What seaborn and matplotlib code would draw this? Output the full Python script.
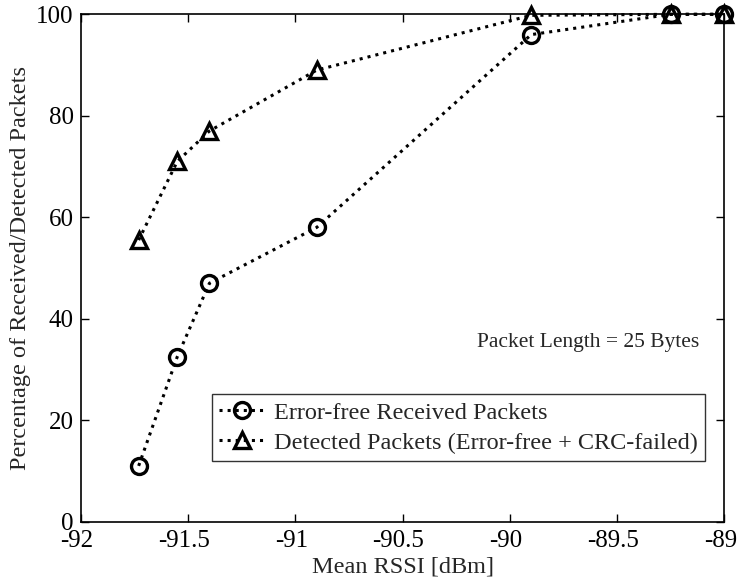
import matplotlib
matplotlib.use("Agg")
import matplotlib.pyplot as plt
import matplotlib.transforms as mtransforms
import seaborn as sns
import pandas as pd

rssi = [-91.73, -91.55, -91.40, -90.90, -89.90, -89.25, -89.00]
error_free = [11.0, 32.5, 47.0, 58.0, 96.0, 100.0, 100.0]
detected = [55.5, 71.0, 77.0, 89.0, 99.8, 100.0, 100.0]
labels = ["Error-free Received Packets",
          "Detected Packets (Error-free + CRC-failed)"]
x_ticks = [-92, -91.5, -91, -90.5, -90, -89.5, -89]
x_tick_labels = ["-92", "-91.5", "-91", "-90.5", "-90", "-89.5", "-89"]
y_ticks = [0, 20, 40, 60, 80, 100]

sns.set_theme(style="ticks")
plt.rcParams["font.family"] = ["Liberation Serif", "DejaVu Serif"]

df = pd.DataFrame({
    "rssi": rssi * 2,
    "pct": error_free + detected,
    "series": [labels[0]] * len(rssi) + [labels[1]] * len(rssi),
})

fig = plt.figure(figsize=(7.38, 5.84), dpi=100)
ax = fig.add_axes([0.1094, 0.1067, 0.872, 0.8688])

for lab, mk in zip(labels, ["o", "^"]):
    sub = df[df["series"] == lab]
    sns.lineplot(data=sub, x="rssi", y="pct", ax=ax, color="black",
                 linestyle=":", linewidth=2.2, marker=mk, markersize=11.5,
                 markerfacecolor="none", markeredgecolor="black",
                 markeredgewidth=2.4, label=lab, clip_on=False, zorder=3)

ax.set_xlim(-92, -89)
ax.set_ylim(0, 100)
ax.set_xticks(x_ticks)
ax.set_xticklabels(x_tick_labels)
ax.set_yticks(y_ticks)
ax.tick_params(direction="in", length=6, width=1, top=True, right=True,
               labelsize=18, colors="black")
ax.tick_params(axis="x", pad=6)
ax.tick_params(axis="y", pad=5)
for s in ax.spines.values():
    s.set_visible(True)
    s.set_linewidth(1.2)
    s.set_color("black")

# nudge the x tick labels slightly left so the hyphen sits before the centre
shift = mtransforms.ScaledTranslation(-4 / 100, 0, fig.dpi_scale_trans)
for lbl in ax.get_xticklabels():
    lbl.set_transform(lbl.get_transform() + shift)

ax.set_xlabel("Mean RSSI [dBm]", fontsize=17.5, labelpad=3.5)
ax.set_ylabel("Percentage of Received/Detected Packets", fontsize=17.5,
              labelpad=4)

ax.text(0.961, 0.353, "Packet Length = 25 Bytes", transform=ax.transAxes,
        ha="right", va="center", fontsize=15.5)

leg = ax.legend(loc="lower right", bbox_to_anchor=(0.970, 0.1196),
                fontsize=17.5, frameon=True, fancybox=False, borderpad=0.3,
                labelspacing=0.33, handlelength=1.9, handletextpad=0.35,
                borderaxespad=0)
leg.get_frame().set_edgecolor("black")
leg.get_frame().set_linewidth(1.0)

fig.savefig("out.png", dpi=100)
